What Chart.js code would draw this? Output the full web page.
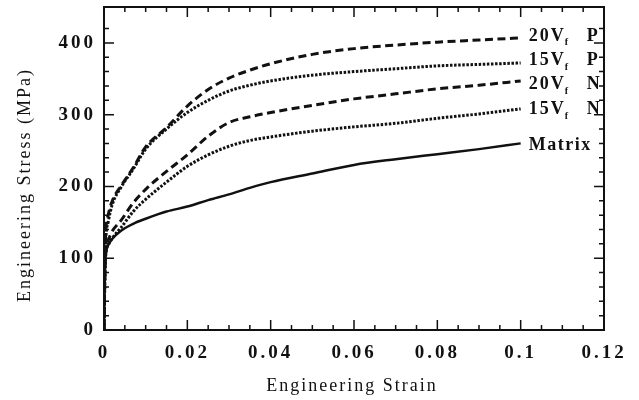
<!DOCTYPE html>
<html lang="en">
<head>
<meta charset="UTF-8">
<title>Engineering Stress vs Strain</title>
<script src="https://cdn.jsdelivr.net/npm/chart.js@4.4.0/dist/chart.umd.min.js"></script>
<style>
  body { margin: 0; background: #fff; }
  #box { width: 639px; height: 400px; }
</style>
</head>
<body>
<div id="box"><canvas id="stressChart" width="639" height="400"></canvas></div>
<script>
// strain points shared by all curves
var strain = [0, 0.0003, 0.001, 0.002, 0.004, 0.007, 0.01, 0.015, 0.02, 0.025, 0.03, 0.035, 0.04, 0.05, 0.06, 0.07, 0.08, 0.09, 0.1];

// stress (MPa)
var stress20P = [0, 120, 160, 180, 200, 226, 255, 282, 312, 335, 351, 362, 371, 384, 392, 397, 401, 404, 407];
var stress15P = [0, 110, 150, 175, 198, 224, 252, 280, 303, 320, 333, 341, 347, 355, 360, 364, 368, 370, 372];
var stress20N = [0, 100, 125, 138, 152, 177, 196, 221, 244, 270, 289, 297, 303, 313, 322, 329, 336, 341, 347];
var stress15N = [0, 95, 118, 128, 142, 165, 182, 206, 228, 244, 256, 264, 269, 277, 283, 288, 295, 301, 308];
var stressMatrix = [0, 95, 118, 127, 138, 148, 155, 165, 172, 181, 189, 198, 206, 218, 230, 238, 245, 252, 260];

var seriesNames = ['20 Vf P', '15 Vf P', '20 Vf N', '15 Vf N', 'Matrix'];
var xTitle = 'Engineering Strain';
var yTitle = 'Engineering Stress (MPa)';

var serif = '"Liberation Serif", "DejaVu Serif", serif';
var ink = '#111';
var labelShift = [-2, -3, 3, 0, 2];

function pts(ys) {
    return strain.map(function (x, i) { return { x: x, y: ys[i] }; });
}

function makeSet(name, ys, dash, width) {
    return {
        label: name,
        data: pts(ys),
        borderColor: ink,
        borderWidth: width,
        borderDash: dash,
        pointRadius: 0,
        fill: false,
        cubicInterpolationMode: 'monotone'
    };
}

var longDash = [8, 4.5];
var dots = [2.5, 1.6];

// inward ticks on all four sides, frame, titles and curve labels
var framePlugin = {
    id: 'frame',
    beforeDraw: function (chart) {
        chart.ctx.letterSpacing = '3px';
    },
    afterDraw: function (chart) {
        var ctx = chart.ctx;
        var a = chart.chartArea;
        var xs = chart.scales.x, ys = chart.scales.y;
        ctx.save();
        ctx.letterSpacing = '0px';
        ctx.strokeStyle = ink;
        ctx.lineWidth = 2;
        ctx.strokeRect(a.left, a.top, a.right - a.left, a.bottom - a.top);

        ctx.lineWidth = 1.5;
        ctx.beginPath();
        xs.ticks.forEach(function (t) {
            var v = t.value;
            if (Math.abs(v / 0.005 - Math.round(v / 0.005)) > 1e-6) return;
            var major = Math.abs(v / 0.02 - Math.round(v / 0.02)) < 1e-6;
            var len = major ? 10 : 5;
            var px = xs.getPixelForValue(v);
            ctx.moveTo(px, a.bottom); ctx.lineTo(px, a.bottom - len);
            ctx.moveTo(px, a.top); ctx.lineTo(px, a.top + len);
        });
        ys.ticks.forEach(function (t) {
            var v = t.value;
            if (v % 20 !== 0) return;
            var len = v % 100 === 0 ? 10 : 5;
            var py = ys.getPixelForValue(v);
            ctx.moveTo(a.left, py); ctx.lineTo(a.left + len, py);
            ctx.moveTo(a.right, py); ctx.lineTo(a.right - len, py);
        });
        ctx.stroke();

        // axis titles
        ctx.fillStyle = ink;
        ctx.font = '18px ' + serif;
        ctx.letterSpacing = '2px';
        ctx.textAlign = 'center';
        ctx.textBaseline = 'middle';
        ctx.fillText(xTitle, 352, 386);
        ctx.save();
        ctx.translate(25, 185);
        ctx.rotate(-Math.PI / 2);
        ctx.fillText(yTitle, 0, 0);
        ctx.restore();

        // curve labels at the end of each curve
        chart.data.datasets.forEach(function (ds, i) {
            var last = ds.data[ds.data.length - 1];
            var x = xs.getPixelForValue(last.x) + 8;
            var y = ys.getPixelForValue(last.y) + labelShift[i];
            var parts = ds.label.split(' ');
            ctx.textAlign = 'left';
            ctx.textBaseline = 'middle';
            ctx.font = 'bold 18px ' + serif;
            if (parts.length === 3) {
                ctx.letterSpacing = '2px';
                var main = parts[0] + parts[1].charAt(0);
                ctx.fillText(main, x, y);
                var w = ctx.measureText(main).width;
                ctx.font = 'bold 10px ' + serif;
                ctx.letterSpacing = '0px';
                ctx.fillText(parts[1].charAt(1), x + w - 1, y + 7);
                ctx.font = 'bold 18px ' + serif;
                ctx.fillText(parts[2], x + 58, y);
            } else {
                ctx.letterSpacing = '1.5px';
                ctx.fillText(ds.label, x, y);
            }
        });
        ctx.restore();
    }
};

function noOverhang(s) {
    s.paddingTop = 0;
    s.paddingBottom = 0;
    s.paddingLeft = 0;
    s.paddingRight = 0;
}

new Chart(document.getElementById('stressChart'), {
    type: 'line',
    data: {
        datasets: [
            makeSet(seriesNames[0], stress20P, longDash, 3),
            makeSet(seriesNames[1], stress15P, dots, 3),
            makeSet(seriesNames[2], stress20N, longDash, 3),
            makeSet(seriesNames[3], stress15N, dots, 3),
            makeSet(seriesNames[4], stressMatrix, [], 2.5)
        ]
    },
    options: {
        responsive: false,
        animation: false,
        layout: { padding: { left: 0, right: 35, top: 7, bottom: 0 } },
        plugins: { legend: { display: false }, tooltip: { enabled: false } },
        scales: {
            x: {
                type: 'linear',
                min: 0,
                max: 0.12,
                grid: { display: false, drawTicks: false },
                border: { display: false },
                afterFit: function (s) { s.height = 70; noOverhang(s); },
                ticks: {
                    stepSize: 0.005,
                    autoSkip: false,
                    maxRotation: 0,
                    padding: 12,
                    color: ink,
                    font: { family: serif, size: 19, weight: 'bold' },
                    callback: function (v) {
                        if (Math.abs(v / 0.02 - Math.round(v / 0.02)) > 1e-6) return '';
                        return String(+v.toFixed(3));
                    }
                }
            },
            y: {
                min: 0,
                max: 450,
                grid: { display: false, drawTicks: false },
                border: { display: false },
                afterFit: function (s) { s.width = 104; noOverhang(s); },
                ticks: {
                    stepSize: 20,
                    autoSkip: false,
                    padding: 8,
                    color: ink,
                    font: { family: serif, size: 19, weight: 'bold' },
                    callback: function (v) { return v % 100 === 0 ? String(v) : ''; }
                }
            }
        }
    },
    plugins: [framePlugin]
});
</script>
</body>
</html>
